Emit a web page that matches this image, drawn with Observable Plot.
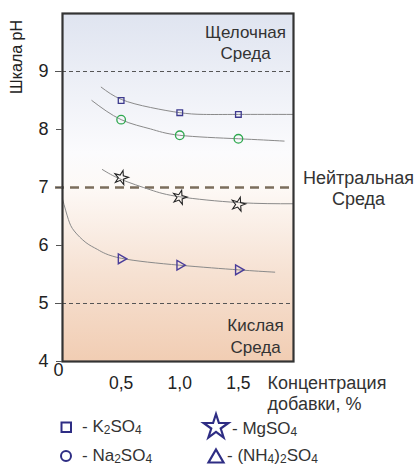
<!DOCTYPE html>
<html>
<head>
<meta charset="utf-8">
<script src="https://cdn.jsdelivr.net/npm/d3@7"></script>
<script src="https://cdn.jsdelivr.net/npm/@observablehq/plot@0.6"></script>
<style>
  html, body { margin: 0; padding: 0; background: #fff; }
  #wrap { position: relative; width: 417px; height: 466px; font-family: "Liberation Sans", Arial, sans-serif; color: #333; overflow: hidden; }
  .leg { position: absolute; font-size: 17px; line-height: 17px; white-space: nowrap; display: flex; align-items: center; }
  .leg sub { font-size: 12px; vertical-align: -2px; line-height: 0; }
  .leg svg { overflow: visible; }
  #ylab { position: absolute; left: 17px; top: 57px; font-size: 16px; color: #222; white-space: nowrap;
          transform: translate(-50%, -50%) rotate(-90deg); }
</style>
</head>
<body>
<div id="wrap"></div>
<script>
// ---- data ----
const concentrations = [0.5, 1.0, 1.5];
const k2so4  = [8.50, 8.29, 8.26];
const na2so4 = [8.17, 7.90, 7.84];
const mgso4  = [7.17, 6.83, 6.71];
const nh4so4 = [5.77, 5.66, 5.58];

// fitted trend curves
const k2so4CurveX  = [0.33, 0.5, 0.75, 1.0, 1.2, 1.5, 1.97];
const k2so4CurveY  = [8.73, 8.52, 8.38, 8.29, 8.26, 8.26, 8.26];
const na2so4CurveX = [0.25, 0.5, 0.75, 1.0, 1.5, 1.89];
const na2so4CurveY = [8.50, 8.17, 8.01, 7.90, 7.84, 7.80];
const mgso4CurveX  = [0.34, 0.5, 0.75, 1.0, 1.5, 1.97];
const mgso4CurveY  = [7.31, 7.14, 6.96, 6.84, 6.74, 6.72];
const nh4so4CurveX = [0.0, 0.05, 0.1, 0.2, 0.3, 0.5, 1.0, 1.5, 1.81];
const nh4so4CurveY = [6.80, 6.45, 6.25, 6.05, 5.93, 5.78, 5.66, 5.58, 5.54];

const yTicks = [4, 5, 6, 7, 8, 9];
const xTicks = [0.5, 1.0, 1.5];
const boundaryMinor = [9, 5];
const boundaryNeutral = [7];

const curves = [
  {xs: k2so4CurveX, ys: k2so4CurveY},
  {xs: na2so4CurveX, ys: na2so4CurveY},
  {xs: mgso4CurveX, ys: mgso4CurveY},
  {xs: nh4so4CurveX, ys: nh4so4CurveY}
];
const curveRows = curves.flatMap((c, i) => c.xs.map((x, j) => ({series: i, x, y: c.ys[j]})));
const pts = (vals) => concentrations.map((x, i) => ({x, y: vals[i]}));

const fmt = d => d.toFixed(1).replace(".", ",");

const chart = Plot.plot({
  width: 417,
  height: 410,
  marginLeft: 62,
  marginRight: 124,
  marginTop: 13,
  marginBottom: 49,
  style: {fontFamily: '"Liberation Sans", Arial, sans-serif', color: "#222", background: "transparent", overflow: "visible"},
  x: {domain: [0, 1.97]},
  y: {domain: [4, 10]},
  marks: [
    Plot.frame({fill: "url(#phbg)", stroke: "none"}),
    Plot.ruleY(boundaryMinor, {stroke: "#555", strokeWidth: 1, strokeDasharray: "4,3", insetLeft: -7}),
    Plot.ruleY(boundaryNeutral, {stroke: "#7b6d5c", strokeWidth: 2.6, strokeDasharray: "9,6", insetLeft: -7}),
    Plot.line(curveRows, {x: "x", y: "y", z: "series", curve: "natural", stroke: "#8a8a8a", strokeWidth: 1}),
    Plot.dot(pts(k2so4), {x: "x", y: "y", symbol: "square", r: 3.2, stroke: "#3d3a8e", strokeWidth: 1.3, fill: "none"}),
    Plot.dot(pts(na2so4), {x: "x", y: "y", symbol: "circle", r: 4.3, stroke: "#2ea84f", strokeWidth: 1.3, fill: "none"}),
    Plot.dot(pts(mgso4), {x: "x", y: "y", symbol: "star", r: 4.4, stroke: "#222", strokeWidth: 1.1, fill: "none", rotate: 15}),
    Plot.dot(pts(nh4so4), {x: "x", y: "y", symbol: "triangle", r: 3.6, rotate: 90, stroke: "#4a3d9a", strokeWidth: 1.4, fill: "none"}),
    Plot.frame({stroke: "#333", strokeWidth: 2.2}),
    Plot.axisY({ticks: yTicks, tickSize: 6, tickPadding: 8, fontSize: 18, label: null, stroke: "#555", tickFormat: d => String(d)}),
    Plot.axisX({ticks: xTicks, tickSize: 0, tickPadding: 15, fontSize: 17.5, label: null, tickFormat: fmt}),
    Plot.text(["0"], {frameAnchor: "bottom-left", textAnchor: "middle", dx: -4, dy: 14, fontSize: 18, fill: "#222"}),
    Plot.text(["Щелочная\nСреда"], {frameAnchor: "top-right", textAnchor: "middle", dx: -48, dy: 9, lineAnchor: "top", lineHeight: 1.25, fontSize: 17, fill: "#333"}),
    Plot.text(["Нейтральная\nСреда"], {frameAnchor: "top-right", textAnchor: "middle", dx: 65, dy: 155, lineAnchor: "top", lineHeight: 1.2, fontSize: 18, fill: "#333"}),
    Plot.text(["Кислая\nСреда"], {frameAnchor: "bottom-right", textAnchor: "middle", dx: -38, dy: -9, lineAnchor: "bottom", lineHeight: 1.25, fontSize: 17, fill: "#333"}),
    Plot.text(["Концентрация\nдобавки, %"], {frameAnchor: "bottom-right", textAnchor: "start", dx: -26, dy: 13, lineAnchor: "top", lineHeight: 1.15, fontSize: 18, fill: "#333"})
  ]
});

// gradient background definition
const ns = "http://www.w3.org/2000/svg";
const defs = document.createElementNS(ns, "defs");
const grad = document.createElementNS(ns, "linearGradient");
grad.setAttribute("id", "phbg");
grad.setAttribute("x1", "0"); grad.setAttribute("y1", "0");
grad.setAttribute("x2", "0"); grad.setAttribute("y2", "1");
[["0", "#dfe4f0"], ["0.4", "#fbfbfd"], ["0.5", "#fdf9f6"], ["0.75", "#f6e1d2"], ["1", "#f1cdb3"]].forEach(([o, c]) => {
  const s = document.createElementNS(ns, "stop");
  s.setAttribute("offset", o); s.setAttribute("stop-color", c);
  grad.appendChild(s);
});
defs.appendChild(grad);
chart.insertBefore(defs, chart.firstChild);

const wrap = document.getElementById("wrap");
wrap.appendChild(chart);

const ylab = document.createElement("div");
ylab.id = "ylab";
ylab.textContent = "Шкала pH";
wrap.appendChild(ylab);

// legend below the svg
const legendItems = [
  {sym: "square",   left: 60,  top: 418, label: '- K<sub>2</sub>SO<sub>4</sub>'},
  {sym: "star",     left: 202, top: 418, label: '- MgSO<sub>4</sub>'},
  {sym: "circle",   left: 60,  top: 447, label: '- Na<sub>2</sub>SO<sub>4</sub>'},
  {sym: "triangle", left: 207, top: 447, label: '- (NH<sub>4</sub>)<sub>2</sub>SO<sub>4</sub>'}
];
const symSvg = {
  square: '<svg width="12" height="12" style="margin-right:10px"><rect x="1.5" y="1.5" width="9.5" height="9.5" fill="none" stroke="#2e2d84" stroke-width="2"/></svg>',
  circle: '<svg width="12" height="12" style="margin-right:10px"><circle cx="6" cy="6" r="5" fill="none" stroke="#2e2d84" stroke-width="2"/></svg>',
  star: '<svg width="28" height="20" style="margin-right:2px"><path d="' + d3.symbol(d3.symbolStar, 190)().toString() + '" transform="translate(14,9)" fill="none" stroke="#2e2d84" stroke-width="2.2"/></svg>',
  triangle: '<svg width="18" height="16" style="margin-right:2px"><path d="M9,1.5 L16.5,14.5 L1.5,14.5 Z" fill="none" stroke="#2e2d84" stroke-width="2.2"/></svg>'
};
legendItems.forEach(it => {
  const d = document.createElement("div");
  d.className = "leg";
  d.style.left = it.left + "px";
  d.style.top = it.top + "px";
  d.innerHTML = symSvg[it.sym] + '<span>' + it.label + '</span>';
  wrap.appendChild(d);
});
</script>
</body>
</html>
